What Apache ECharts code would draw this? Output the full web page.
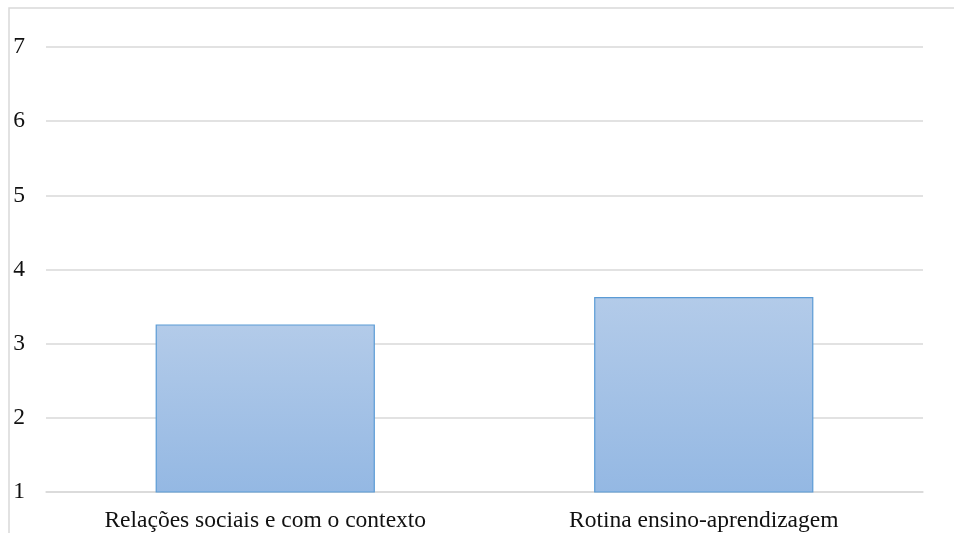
<!DOCTYPE html>
<html>
<head>
<meta charset="utf-8">
<script src="https://cdn.jsdelivr.net/npm/echarts@6/dist/echarts.min.js"></script>
<style>
  html, body { margin: 0; padding: 0; background: #fff; }
  #chart { width: 954px; height: 533px; }
</style>
</head>
<body>
<div id="chart"></div>
<script>
const categories = ['Relações sociais e com o contexto', 'Rotina ensino-aprendizagem']
const values = [3.26, 3.63]
const yMin = 1
const yMax = 7

const chart = echarts.init(document.getElementById('chart'))
chart.setOption({
  backgroundColor: '#fff',
  animation: false,
  graphic: [{
    type: 'rect',
    shape: { x: 9, y: 8, width: 960, height: 560 },
    style: { fill: 'none', stroke: '#d9d9d9', lineWidth: 1.5 },
    silent: true
  }],
  grid: { left: 46, right: 31, top: 47, bottom: 40.5 },
  xAxis: {
    type: 'category',
    data: categories,
    axisTick: { show: false },
    axisLine: { lineStyle: { color: '#d9d9d9', width: 1.5 } },
    axisLabel: {
      color: '#111',
      fontFamily: 'Liberation Serif',
      fontSize: 23.5,
      margin: 17
    }
  },
  yAxis: {
    type: 'value',
    min: yMin,
    max: yMax,
    interval: 1,
    axisLine: { show: false },
    axisTick: { show: false },
    splitLine: { lineStyle: { color: '#d9d9d9', width: 1.5 } },
    axisLabel: {
      color: '#111',
      fontFamily: 'Liberation Serif',
      fontSize: 23.5,
      margin: 21
    }
  },
  series: [{
    type: 'bar',
    data: values,
    barWidth: '50%',
    itemStyle: {
      color: new echarts.graphic.LinearGradient(0, 0, 0, 1, [
        { offset: 0, color: '#b3cbe9' },
        { offset: 1, color: '#94b8e3' }
      ]),
      borderColor: '#5b9bd5',
      borderWidth: 1.2
    }
  }]
})
</script>
</body>
</html>
